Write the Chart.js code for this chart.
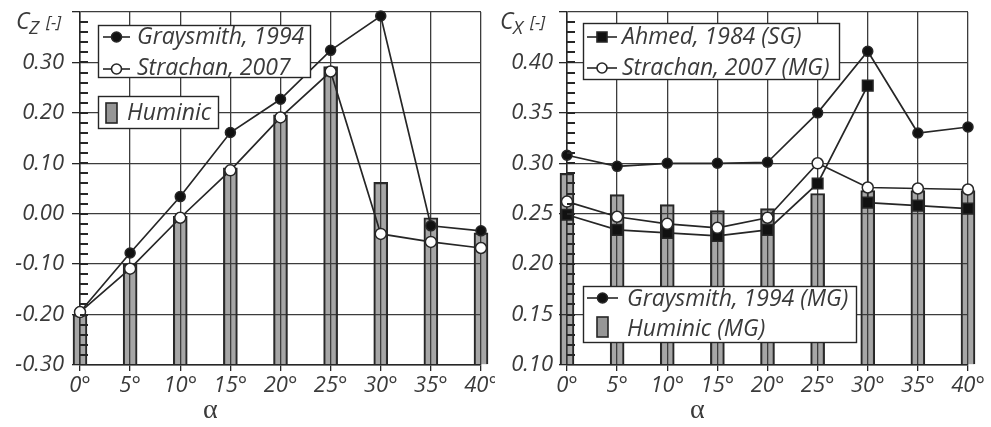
<!DOCTYPE html>
<html>
<head>
<meta charset="utf-8">
<script src="https://cdn.jsdelivr.net/npm/chart.js@4.4.0/dist/chart.umd.min.js"></script>
<style>
  html, body { margin: 0; padding: 0; background: #fff; }
  #wrap { position: relative; width: 991px; height: 427px; }
  .panel { position: absolute; top: 0; height: 427px; }
  #left { left: 0; width: 495px; }
  #right { left: 495px; width: 496px; }
</style>
</head>
<body>
<div id="wrap">
  <div class="panel" id="left"><canvas id="czChart"></canvas></div>
  <div class="panel" id="right"><canvas id="cxChart"></canvas></div>
</div>
<script>
// angle of attack (deg)
const alpha = [0, 5, 10, 15, 20, 25, 30, 35, 40];
const alphaLabels = ['0°', '5°', '10°', '15°', '20°', '25°', '30°', '35°', '40°'];

// lift coefficient Cz
const czTicks = [-0.3, -0.2, -0.1, 0, 0.1, 0.2, 0.3, 0.4];
const czLabels = ['-0.30', '-0.20', '-0.10', '0.00', '0.10', '0.20', '0.30', ''];
const czGraysmith = [-0.195, -0.078, 0.034, 0.161, 0.227, 0.324, 0.392, -0.024, -0.034];
const czStrachan = [-0.195, -0.109, -0.008, 0.086, 0.191, 0.282, -0.040, -0.056, -0.068];
const czHuminic = [-0.200, -0.100, -0.005, 0.091, 0.196, 0.292, 0.062, -0.008, -0.038];

// drag coefficient Cx
const cxTicks = [0.10, 0.15, 0.20, 0.25, 0.30, 0.35, 0.40, 0.45];
const cxLabels = ['0.10', '0.15', '0.20', '0.25', '0.30', '0.35', '0.40', ''];
const cxGraysmith = [0.308, 0.297, 0.300, 0.300, 0.301, 0.350, 0.411, 0.330, 0.336];
const cxStrachan = [0.262, 0.247, 0.240, 0.236, 0.246, 0.300, 0.276, 0.275, 0.274];
const ahmedAlpha = [0, 5, 10, 15, 20, 25, 30, 30, 35, 40];
const cxAhmed = [0.249, 0.234, 0.231, 0.228, 0.234, 0.280, 0.377, 0.261, 0.258, 0.255];
const cxHuminic = [0.290, 0.269, 0.259, 0.253, 0.255, 0.270, 0.273, 0.273, 0.273];

const INK = '#262626';
const TEXT = '#3a3a3a';
const BAR_FILL = 'rgba(60,60,60,0.46)';
const FONT = "'Open Sans', 'Noto Sans', sans-serif";

Chart.defaults.font.family = FONT;
Chart.defaults.color = TEXT;

const pts = (xs, ys) => xs.map((x, i) => ({ x: x, y: ys[i] }));

// minor tick ladder on the inside of the y axis
function drawMinorTicks(chart, step) {
  const ys = chart.scales.y, area = chart.chartArea, ctx = chart.ctx;
  const n = Math.round((ys.max - ys.min) / step);
  ctx.save();
  ctx.fillStyle = INK;
  for (let i = 1; i < n; i++) {
    const py = Math.round(ys.getPixelForValue(ys.min + i * step));
    ctx.fillRect(Math.round(area.left), py - 1, 8, 2);
  }
  ctx.restore();
}

// axis titles and the boxed legends
const decor = {
  id: 'decor',
  afterDraw(chart, args, o) {
    drawMinorTicks(chart, o.minorStep);
    const ctx = chart.ctx;
    ctx.save();
    ctx.fillStyle = TEXT;
    ctx.textAlign = 'left';
    ctx.textBaseline = 'alphabetic';

    // y title: C_sub [-]
    const t = o.yTitle;
    ctx.font = 'italic 23px ' + FONT;
    ctx.fillText('C', t.x, 29);
    ctx.font = 'italic 19px ' + FONT;
    ctx.fillText(t.sub, t.x + 13, 34);
    ctx.font = 'italic 17px ' + FONT;
    ctx.fillText('[-]', t.x + 30, 28);

    // x title
    ctx.font = '28px "Liberation Serif", "DejaVu Serif", serif';
    ctx.textAlign = 'center';
    ctx.fillText('α', chart.scales.x.getPixelForValue(o.alphaAt), 418);

    // legends
    o.legends.forEach(box => {
      ctx.fillStyle = '#fff';
      ctx.strokeStyle = INK;
      ctx.lineWidth = 1.4;
      ctx.fillRect(box.x, box.y, box.w, box.h);
      ctx.strokeRect(box.x + 0.5, box.y + 0.5, box.w, box.h);
      box.items.forEach(it => {
        if (it.kind === 'bar') {
          ctx.fillStyle = 'rgb(150,150,150)';
          ctx.fillRect(it.sx, it.sy, 11, 20);
          ctx.strokeStyle = INK;
          ctx.lineWidth = 1.6;
          ctx.strokeRect(it.sx, it.sy, 11, 20);
        } else {
          ctx.strokeStyle = INK;
          ctx.lineWidth = 1.6;
          ctx.beginPath();
          ctx.moveTo(it.sx, it.my);
          ctx.lineTo(it.sx + it.sw, it.my);
          ctx.stroke();
          const cx = it.sx + it.sw / 2;
          ctx.fillStyle = it.fill;
          ctx.beginPath();
          if (it.style === 'rect') ctx.rect(cx - 5, it.my - 5, 10, 10);
          else ctx.arc(cx, it.my, 5, 0, Math.PI * 2);
          ctx.fill();
          ctx.stroke();
        }
        ctx.fillStyle = TEXT;
        ctx.textAlign = 'left';
        ctx.font = 'italic 23px ' + FONT;
        ctx.fillText(it.label, it.tx, it.ty);
      });
    });
    ctx.restore();
  }
};

function lineSet(label, xs, ys, fill, style, radius) {
  return {
    type: 'line',
    label: label,
    data: pts(xs, ys),
    borderColor: INK,
    borderWidth: 1.7,
    tension: 0,
    pointStyle: style,
    pointRadius: radius,
    pointBackgroundColor: fill,
    pointBorderColor: INK,
    pointBorderWidth: 1.5,
    clip: false
  };
}

function barSet(label, ys, base) {
  return {
    type: 'bar',
    label: label,
    data: pts(alpha, ys),
    base: base,
    barThickness: 14,
    backgroundColor: BAR_FILL,
    borderColor: INK,
    borderWidth: 1.5,
    clip: false
  };
}

function makeChart(id, cfg) {
  return new Chart(document.getElementById(id), {
    type: 'bar',
    data: { datasets: cfg.datasets },
    options: {
      responsive: true,
      maintainAspectRatio: false,
      animation: false,
      layout: { padding: { top: 12, right: cfg.padRight, left: 0, bottom: 0 } },
      plugins: {
        legend: { display: false },
        tooltip: { enabled: false },
        decor: cfg.decor
      },
      scales: {
        x: {
          type: 'linear',
          min: 0,
          max: 40,
          offset: false,
          grid: { offset: false, color: '#3c3c3c', lineWidth: 1.3, tickLength: 6, tickColor: INK },
          border: { color: INK, width: 1.5 },
          afterBuildTicks: s => { s.ticks = alpha.map(v => ({ value: v })); },
          ticks: {
            padding: 2,
            font: { size: 22, style: 'italic' },
            color: TEXT,
            maxRotation: 0,
            callback: (v, i) => alphaLabels[i]
          },
          afterFit: s => { s.height = 62; s.paddingLeft = 0; s.paddingRight = 0; }
        },
        y: {
          min: cfg.yTicks[0],
          max: cfg.yTicks[cfg.yTicks.length - 1],
          grid: { color: '#3c3c3c', lineWidth: 1.3, tickLength: 8, tickColor: INK },
          border: { color: INK, width: 1.5 },
          afterBuildTicks: s => { s.ticks = cfg.yTicks.map(v => ({ value: v })); },
          ticks: {
            padding: cfg.yPad,
            font: { size: 22, style: 'italic' },
            color: TEXT,
            callback: (v, i) => cfg.yLabels[i]
          },
          afterFit: s => { s.width = cfg.yWidth; s.paddingTop = 0; s.paddingBottom = 0; }
        }
      }
    },
    plugins: [decor]
  });
}

makeChart('czChart', {
  yTicks: czTicks,
  yLabels: czLabels,
  yWidth: 80,
  yPad: 8,
  padRight: 14,
  datasets: [
    lineSet('Strachan, 2007', alpha, czStrachan, '#fff', 'circle', 5.5),
    lineSet('Graysmith, 1994', alpha, czGraysmith, '#111', 'circle', 5),
    barSet('Huminic', czHuminic, -0.3)
  ],
  decor: {
    minorStep: 0.02,
    alphaAt: 13,
    yTitle: { x: 16, sub: 'Z' },
    legends: [
      { x: 98, y: 25, w: 212, h: 52, items: [
        { kind: 'line', label: 'Graysmith, 1994', fill: '#111', style: 'circle', sx: 103, sw: 27, my: 37, tx: 137, ty: 44 },
        { kind: 'line', label: 'Strachan, 2007', fill: '#fff', style: 'circle', sx: 103, sw: 27, my: 69, tx: 137, ty: 75 }
      ] },
      { x: 98, y: 96, w: 120, h: 32, items: [
        { kind: 'bar', label: 'Huminic', sx: 106, sy: 103, tx: 127, ty: 120 }
      ] }
    ]
  }
});

makeChart('cxChart', {
  yTicks: cxTicks,
  yLabels: cxLabels,
  yWidth: 72,
  yPad: 6,
  padRight: 23,
  datasets: [
    lineSet('Strachan, 2007 (MG)', alpha, cxStrachan, '#fff', 'circle', 5.5),
    lineSet('Ahmed, 1984 (SG)', ahmedAlpha, cxAhmed, '#111', 'rect', 7.5),
    lineSet('Graysmith, 1994 (MG)', alpha, cxGraysmith, '#111', 'circle', 5),
    barSet('Huminic (MG)', cxHuminic, 0.1)
  ],
  decor: {
    minorStep: 0.01,
    alphaAt: 13,
    yTitle: { x: 5, sub: 'X' },
    legends: [
      { x: 88, y: 23, w: 256, h: 56, items: [
        { kind: 'line', label: 'Ahmed, 1984 (SG)', fill: '#111', style: 'rect', sx: 92, sw: 30, my: 37, tx: 127, ty: 44 },
        { kind: 'line', label: 'Strachan, 2007 (MG)', fill: '#fff', style: 'circle', sx: 92, sw: 30, my: 68, tx: 127, ty: 75 }
      ] },
      { x: 88, y: 286, w: 273, h: 56, items: [
        { kind: 'line', label: 'Graysmith, 1994 (MG)', fill: '#111', style: 'circle', sx: 92, sw: 31, my: 298, tx: 132, ty: 306 },
        { kind: 'bar', label: 'Huminic (MG)', sx: 102, sy: 317, tx: 132, ty: 336 }
      ] }
    ]
  }
});
</script>
</body>
</html>
